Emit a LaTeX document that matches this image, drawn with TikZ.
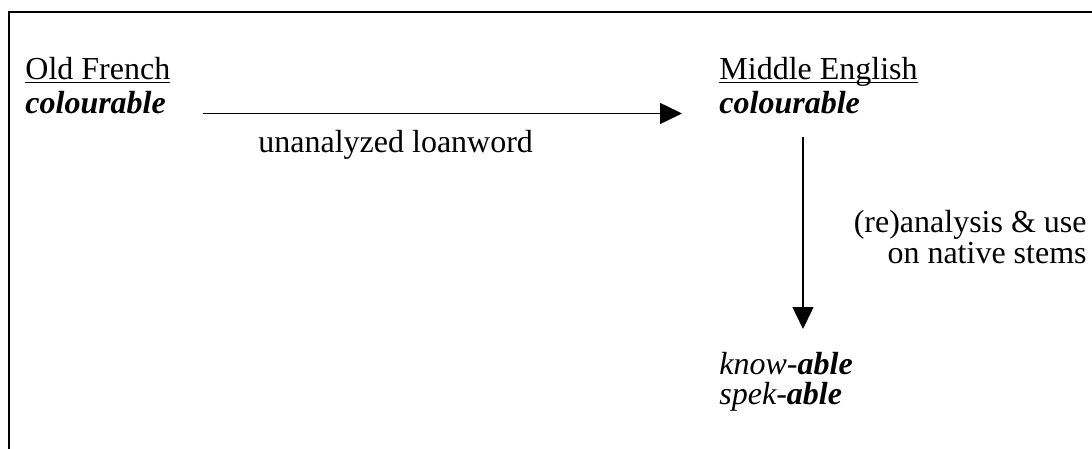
\documentclass[tikz,border=0pt]{standalone}
\usepackage{fontspec}
\setmainfont{Liberation Serif}
\usepackage{tikz}
\usetikzlibrary{arrows.meta}

\begin{document}
\begin{tikzpicture}[x=0.5pt,y=-0.5pt,
 lab/.style={font=\fontsize{16}{19}\selectfont,inner sep=0pt},
 word/.style={lab,font=\fontsize{16}{19}\selectfont\bfseries\itshape},
 derive/.style={-{Triangle[length=11pt,width=10.5pt]},line width=0.75pt},
 frame/.style={line width=1pt}
]
\useasboundingbox (0,0) rectangle (1092,449);
\draw[frame] (9,449)--(9,12)--(1092,12);

\node[lab,anchor=base west] (of) at (25,80) {\underline{\smash{Old French}}};
\node[word,anchor=base west] (ofw) at (25,114) {colourable};
\node[lab,anchor=base west] (me) at (719,80) {\underline{\smash{Middle English}}};
\node[word,anchor=base west] (mew) at (719,114) {colourable};
\node[lab,anchor=base west,align=left,font=\fontsize{16}{15}\selectfont\itshape] (kn) at (719,404)
      {know-\textbf{able}\\spek-\textbf{able}};

\coordinate (hs) at (203,113.5);
\coordinate (he) at (682,113.5);
\coordinate (vs) at (803,137);
\coordinate (ve) at (803,329);
\draw[derive] (hs)--(he);
\draw[derive] (vs)--(ve);

\node[lab,anchor=base west] (loan) at (258,153) {unanalyzed loanword};
\node[lab,anchor=base east,align=right,font=\fontsize{16}{14}\selectfont] (re) at (1087,263)
      {(re)analysis \& use\\on native stems};
\end{tikzpicture}
\end{document}
